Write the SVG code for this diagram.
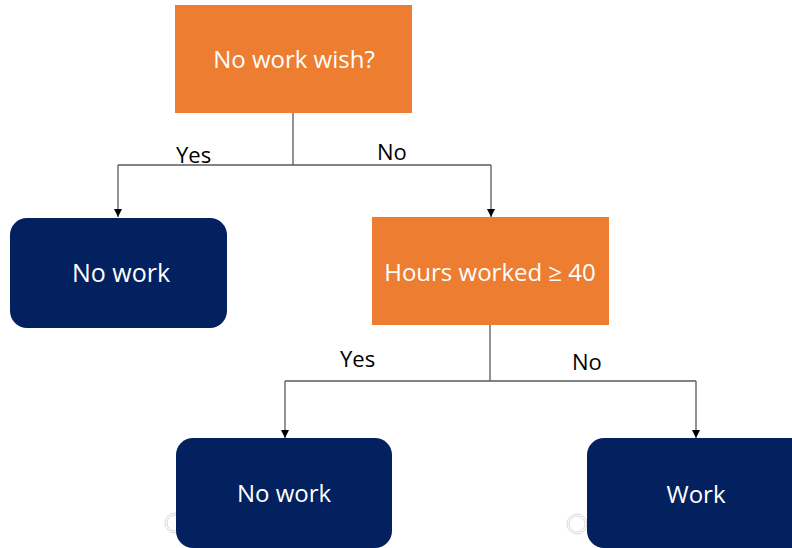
<svg xmlns="http://www.w3.org/2000/svg" width="792" height="548" viewBox="0 0 792 548">
  <style>
    .decision { fill: #ED7D31; }
    .outcome { fill: #03215F; }
    .box-text { font-family: "Open Sans", "Liberation Sans", sans-serif; font-size: 24px; fill: #FFFFFF; text-anchor: middle; }
    .label { font-family: "Open Sans", "Liberation Sans", sans-serif; font-size: 22px; fill: #000000; }
    .wire { fill: none; stroke: #595959; stroke-width: 1.3; }
    .handle { fill: none; stroke: #D9D9D9; stroke-width: 1; }
  </style>
  <defs>
    <marker id="arrow" markerWidth="10" markerHeight="10" refX="8" refY="5" orient="auto" markerUnits="userSpaceOnUse">
      <path d="M0,1 L8,5 L0,9 Z" fill="#000000"/>
    </marker>
  </defs>

  <rect width="792" height="548" fill="#FFFFFF"/>

  <g id="connectors">
    <path class="wire" d="M293,113 V165 M118,165 H491" />
    <path class="wire" d="M118,165 V217" marker-end="url(#arrow)"/>
    <path class="wire" d="M491,165 V217" marker-end="url(#arrow)"/>
    <path class="wire" d="M490,325 V381 M285,381 H696" />
    <path class="wire" d="M285,381 V438" marker-end="url(#arrow)"/>
    <path class="wire" d="M696,381 V438" marker-end="url(#arrow)"/>
  </g>

  <g id="edge-labels">
    <text class="label" x="176" y="163">Yes</text>
    <text class="label" x="377" y="160">No</text>
    <text class="label" x="340" y="367">Yes</text>
    <text class="label" x="572" y="370">No</text>
  </g>

  <g id="handles">
    <circle class="handle" cx="175" cy="523" r="10"/>
    <circle class="handle" cx="175" cy="523" r="8"/>
    <circle class="handle" cx="577" cy="524" r="10"/>
    <circle class="handle" cx="577" cy="524" r="8"/>
  </g>

  <g id="node-no-work-wish">
    <rect class="decision" x="175" y="5" width="237" height="108"/>
    <text class="box-text" x="294" y="68">No work wish?</text>
  </g>

  <g id="node-no-work-1">
    <rect class="outcome" x="10" y="218" width="217" height="110" rx="17" ry="17"/>
    <text class="box-text" x="121" y="282" style="font-size:25px">No work</text>
  </g>

  <g id="node-hours-worked">
    <rect class="decision" x="372" y="217" width="237" height="108"/>
    <text class="box-text" x="490" y="281">Hours worked ≥ 40</text>
  </g>

  <g id="node-no-work-2">
    <rect class="outcome" x="176" y="438" width="216" height="110" rx="17" ry="17"/>
    <text class="box-text" x="284" y="502">No work</text>
  </g>

  <g id="node-work">
    <rect class="outcome" x="587" y="438" width="230" height="110" rx="17" ry="17"/>
    <text class="box-text" x="696" y="503">Work</text>
  </g>
</svg>
